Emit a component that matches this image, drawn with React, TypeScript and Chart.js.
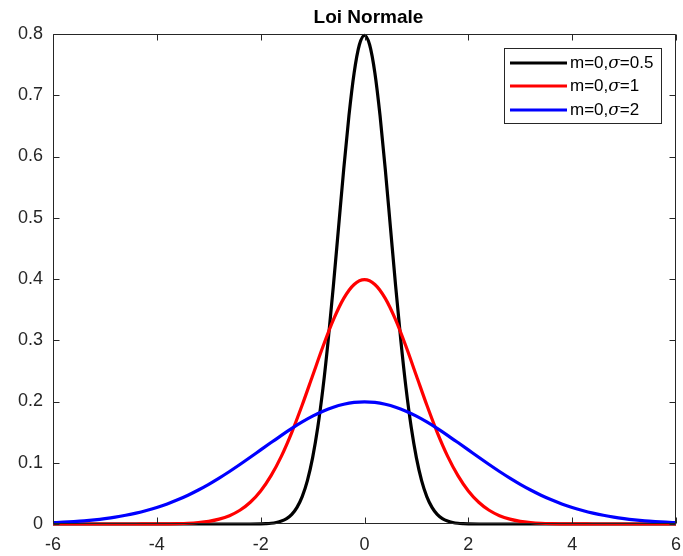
import React, { useEffect, useRef } from "react";
import { Chart, registerables } from "chart.js";

Chart.register(...registerables);

const titleText = "Loi Normale";
const xTicks = [-6, -4, -2, 0, 2, 4, 6];
const yTicks = [0, 0.1, 0.2, 0.3, 0.4, 0.5, 0.6, 0.7, 0.8];

const xWide = [
  -6, -5.8, -5.6, -5.4, -5.2, -5, -4.8, -4.6, -4.4, -4.2, -4, -3.8, -3.6, -3.4, -3.2, -3, -2.8, -2.6, -2.4, -2.2,
  -2, -1.8, -1.6, -1.4, -1.2, -1, -0.8, -0.6, -0.4, -0.2, 0, 0.2, 0.4, 0.6, 0.8, 1, 1.2, 1.4, 1.6, 1.8,
  2, 2.2, 2.4, 2.6, 2.8, 3, 3.2, 3.4, 3.6, 3.8, 4, 4.2, 4.4, 4.6, 4.8, 5, 5.2, 5.4, 5.6, 5.8, 6,
];

const ySigma1 = [
  0, 0, 0, 0, 0, 0, 0, 0, 0, 0.0001, 0.0001, 0.0003, 0.0006, 0.0012, 0.0024, 0.0044, 0.0079, 0.0136, 0.0224, 0.0355,
  0.054, 0.079, 0.1109, 0.1497, 0.1942, 0.242, 0.2897, 0.3332, 0.3683, 0.391, 0.3989, 0.391, 0.3683, 0.3332, 0.2897, 0.242, 0.1942, 0.1497, 0.1109, 0.079,
  0.054, 0.0355, 0.0224, 0.0136, 0.0079, 0.0044, 0.0024, 0.0012, 0.0006, 0.0003, 0.0001, 0.0001, 0, 0, 0, 0, 0, 0, 0, 0, 0,
];

const ySigma2 = [
  0.0022, 0.003, 0.004, 0.0052, 0.0068, 0.0088, 0.0112, 0.0142, 0.0177, 0.022, 0.027, 0.0328, 0.0395, 0.047, 0.0555, 0.0648, 0.0749, 0.0857, 0.0971, 0.1089,
  0.121, 0.133, 0.1448, 0.1561, 0.1666, 0.176, 0.1841, 0.1907, 0.1955, 0.1985, 0.1995, 0.1985, 0.1955, 0.1907, 0.1841, 0.176, 0.1666, 0.1561, 0.1448, 0.133,
  0.121, 0.1089, 0.0971, 0.0857, 0.0749, 0.0648, 0.0555, 0.047, 0.0395, 0.0328, 0.027, 0.022, 0.0177, 0.0142, 0.0112, 0.0088, 0.0068, 0.0052, 0.004, 0.003, 0.0022,
];

const xNarrow = [
  -6, -4, -3, -2.5, -2, -1.9, -1.8, -1.7, -1.6, -1.5, -1.4, -1.3, -1.2, -1.1, -1, -0.9, -0.8, -0.7, -0.6, -0.5, -0.4, -0.3, -0.2, -0.1,
  0, 0.1, 0.2, 0.3, 0.4, 0.5, 0.6, 0.7, 0.8, 0.9, 1, 1.1, 1.2, 1.3, 1.4, 1.5, 1.6, 1.7, 1.8, 1.9, 2, 2.5, 3, 4, 6,
];

const ySigma05 = [
  0, 0, 0, 0, 0.0003, 0.0006, 0.0012, 0.0025, 0.0048, 0.0089, 0.0158, 0.0272, 0.0448, 0.0709, 0.108, 0.1579, 0.2218, 0.2995, 0.3884, 0.4839, 0.5794, 0.6664, 0.7365, 0.7821,
  0.7979, 0.7821, 0.7365, 0.6664, 0.5794, 0.4839, 0.3884, 0.2995, 0.2218, 0.1579, 0.108, 0.0709, 0.0448, 0.0272, 0.0158, 0.0089, 0.0048, 0.0025, 0.0012, 0.0006, 0.0003, 0, 0, 0, 0,
];

const seriesMeans = ["0", "0", "0"];
const seriesSigmas = ["0.5", "1", "2"];
const seriesColors = ["#000000", "#ff0000", "#0000ff"];

const FONT = '"Liberation Sans", Arial, Helvetica, sans-serif';
const AXIS_COLOR = "#262626";

const boxPlugin = {
  id: "boxPlugin",
  afterDatasetsDraw(chart: any) {
    const { ctx, chartArea } = chart;
    const { left, right, top, bottom } = chartArea;
    const xs = chart.scales.x;
    const ys = chart.scales.y;
    ctx.save();
    ctx.strokeStyle = AXIS_COLOR;
    ctx.lineWidth = 1;
    const L = Math.round(left) + 0.5;
    const R = Math.round(right) - 0.5;
    const T = Math.round(top) + 0.5;
    const B = Math.round(bottom) - 0.5;
    ctx.beginPath();
    ctx.rect(L, T, R - L, B - T);
    const tl = 6;
    xTicks.forEach((v) => {
      const px = Math.round(xs.getPixelForValue(v)) + 0.5;
      ctx.moveTo(px, B);
      ctx.lineTo(px, B - tl);
      ctx.moveTo(px, T);
      ctx.lineTo(px, T + tl);
    });
    yTicks.forEach((v) => {
      const py = Math.round(ys.getPixelForValue(v)) + 0.5;
      ctx.moveTo(L, py);
      ctx.lineTo(L + tl, py);
      ctx.moveTo(R, py);
      ctx.lineTo(R - tl, py);
    });
    ctx.stroke();

    // title
    ctx.fillStyle = "#000000";
    ctx.font = `bold 19px ${FONT}`;
    ctx.textAlign = "center";
    ctx.textBaseline = "middle";
    ctx.fillText(titleText, (left + right) / 2 + 4, 18);

    // legend
    const bx = 504.5, by = 48.5, bw = 157, bh = 75;
    ctx.fillStyle = "#ffffff";
    ctx.fillRect(bx, by, bw, bh);
    ctx.strokeStyle = AXIS_COLOR;
    ctx.lineWidth = 1;
    ctx.strokeRect(bx, by, bw, bh);
    const rows = [63, 86, 110];
    ctx.textAlign = "left";
    ctx.textBaseline = "middle";
    seriesSigmas.forEach((s, i) => {
      const y = rows[i];
      ctx.strokeStyle = seriesColors[i];
      ctx.lineWidth = 3;
      ctx.beginPath();
      ctx.moveTo(510, y);
      ctx.lineTo(567, y);
      ctx.stroke();
      let x = 570;
      ctx.fillStyle = "#000000";
      ctx.font = `17px ${FONT}`;
      const a = `m=${seriesMeans[i]},`;
      ctx.fillText(a, x, y);
      x += ctx.measureText(a).width;
      ctx.font = `italic 17px "DejaVu Serif", serif`;
      ctx.fillText("σ", x, y + 1);
      x += ctx.measureText("σ").width;
      ctx.font = `17px ${FONT}`;
      ctx.fillText(`=${s}`, x, y);
    });
    ctx.restore();
  },
};

export default function App() {
  const ref = useRef<HTMLCanvasElement | null>(null);
  useEffect(() => {
    if (!ref.current) return;
    const mk = (xs: number[], ys: number[]) => xs.map((x, i) => ({ x, y: ys[i] }));
    const chart = new Chart(ref.current, {
      type: "line",
      data: {
        datasets: [
          { label: "s0.5", data: mk(xNarrow, ySigma05), borderColor: seriesColors[0], order: 2 },
          { label: "s1", data: mk(xWide, ySigma1), borderColor: seriesColors[1], order: 1 },
          { label: "s2", data: mk(xWide, ySigma2), borderColor: seriesColors[2], order: 0 },
        ].map((d) => ({
          ...d,
          borderWidth: 3.2,
          pointRadius: 0,
          fill: false,
          cubicInterpolationMode: "monotone" as const,
          clip: 6,
        })),
      },
      options: {
        responsive: false,
        animation: false,
        devicePixelRatio: 1,
        layout: { padding: { top: 34, right: 7, left: 0, bottom: 0 } },
        plugins: { legend: { display: false }, tooltip: { enabled: false }, title: { display: false } },
        scales: {
          x: {
            type: "linear",
            min: -6,
            max: 6,
            afterBuildTicks: (s: any) => {
              s.ticks = xTicks.map((v) => ({ value: v }));
            },
            afterFit: (s: any) => {
              s.height = 32;
              s.paddingLeft = 0;
              s.paddingRight = 0;
            },
            ticks: {
              autoSkip: false,
              maxRotation: 0,
              padding: 10,
              color: AXIS_COLOR,
              font: { family: FONT, size: 18 },
              callback: (v: any) => String(v),
            },
            grid: { display: false, drawTicks: false },
            border: { display: false },
          },
          y: {
            type: "linear",
            min: 0,
            max: 0.8,
            afterBuildTicks: (s: any) => {
              s.ticks = yTicks.map((v) => ({ value: v }));
            },
            afterFit: (s: any) => {
              s.width = 53;
              s.paddingTop = 0;
              s.paddingBottom = 0;
            },
            ticks: {
              autoSkip: false,
              padding: 10,
              color: AXIS_COLOR,
              font: { family: FONT, size: 18 },
              callback: (v: any) => (Number(v) === 0 ? "0" : Number(v).toFixed(1)),
            },
            grid: { display: false, drawTicks: false },
            border: { display: false },
          },
        },
      },
      plugins: [boxPlugin],
    });
    return () => chart.destroy();
  }, []);
  return (
    <div style={{ position: "absolute", left: 0, top: 0, width: 683, height: 556, background: "#ffffff" }}>
      <canvas ref={ref} width={683} height={556} style={{ display: "block" }} />
    </div>
  );
}
